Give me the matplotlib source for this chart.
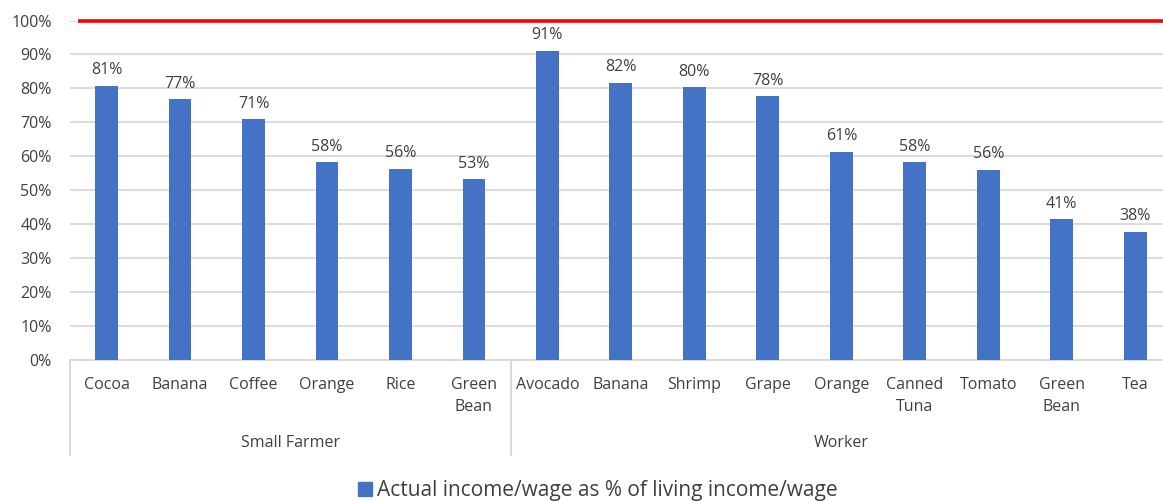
import matplotlib
matplotlib.use('Agg')
import matplotlib.pyplot as plt
from matplotlib.patches import Patch

plt.rcParams['font.family'] = ['Open Sans', 'DejaVu Sans']

groups = ['Small Farmer', 'Worker']
products = [
    ['Cocoa', 'Banana', 'Coffee', 'Orange', 'Rice', 'Green\nBean'],
    ['Avocado', 'Banana', 'Shrimp', 'Grape', 'Orange', 'Canned\nTuna',
     'Tomato', 'Green\nBean', 'Tea'],
]
values = [
    [80.7, 76.8, 70.9, 58.2, 56.2, 53.2],
    [91.0, 81.6, 80.3, 77.6, 61.2, 58.2, 55.9, 41.4, 37.6],
]
target = 100
legend_label = 'Actual income/wage as % of living income/wage'

blue = '#4472C4'
text_c = '#404040'
grid_c = '#D9D9D9'

labels = [p for g in products for p in g]
vals = [v for g in values for v in g]
xs = list(range(len(vals)))

fig = plt.figure(figsize=(11.63, 5.01), dpi=100)
ax = fig.add_axes([69.75 / 1163, 0.2824, (1172 - 69.75) / 1163, 0.6766])

ax.bar(xs, vals, width=0.31, color=blue, zorder=3)
for x, v in zip(xs, vals):
    ax.annotate(f'{v:.0f}%', (x, v), xytext=(0, 5.5), textcoords='offset points',
                ha='center', va='bottom', fontsize=11.5, color=text_c)

# living income / wage benchmark
ax.plot([-0.39, len(vals) - 0.5], [target, target], color='#FF0000',
        linewidth=2.6, solid_capstyle='butt', zorder=4, clip_on=False)

ax.set_xlim(-0.5, len(vals) - 0.5)
ax.set_ylim(0, 100)
ax.set_yticks(range(0, 101, 10))
ax.set_yticklabels([f'{t}%' for t in range(0, 101, 10)])
ax.tick_params(axis='y', length=0, pad=13, labelsize=11.5, labelcolor=text_c)
ax.set_xticks([])
ax.grid(axis='y', color=grid_c, linewidth=1.3, zorder=0)
for s in ['top', 'right', 'left']:
    ax.spines[s].set_visible(False)
ax.spines['bottom'].set_color(grid_c)
ax.spines['bottom'].set_linewidth(1.3)

# two-level category axis
tr = ax.get_xaxis_transform()
for x, lab in zip(xs, labels):
    ax.text(x, -0.052, lab, transform=tr, ha='center', va='top',
            fontsize=11.5, color=text_c, linespacing=1.5)

start = -0.5
for g, prods in zip(groups, products):
    end = start + len(prods)
    ax.text((start + end) / 2, -0.246, g, transform=tr, ha='center',
            va='center', fontsize=11.5, color=text_c)
    start = end
bounds = [-0.5]
for prods in products:
    bounds.append(bounds[-1] + len(prods))
for b in bounds:
    ax.plot([b, b], [0, -0.282], transform=tr, color=grid_c, linewidth=1.5,
            clip_on=False)

fig.legend(handles=[Patch(color=blue, label=legend_label)],
           loc='lower left', bbox_to_anchor=(358 / 1163, 0.0),
           frameon=False, fontsize=15, handlelength=0.68, handleheight=0.68,
           handletextpad=0.25, borderpad=0, borderaxespad=0, labelcolor=text_c)

fig.savefig('out.png', dpi=100)
